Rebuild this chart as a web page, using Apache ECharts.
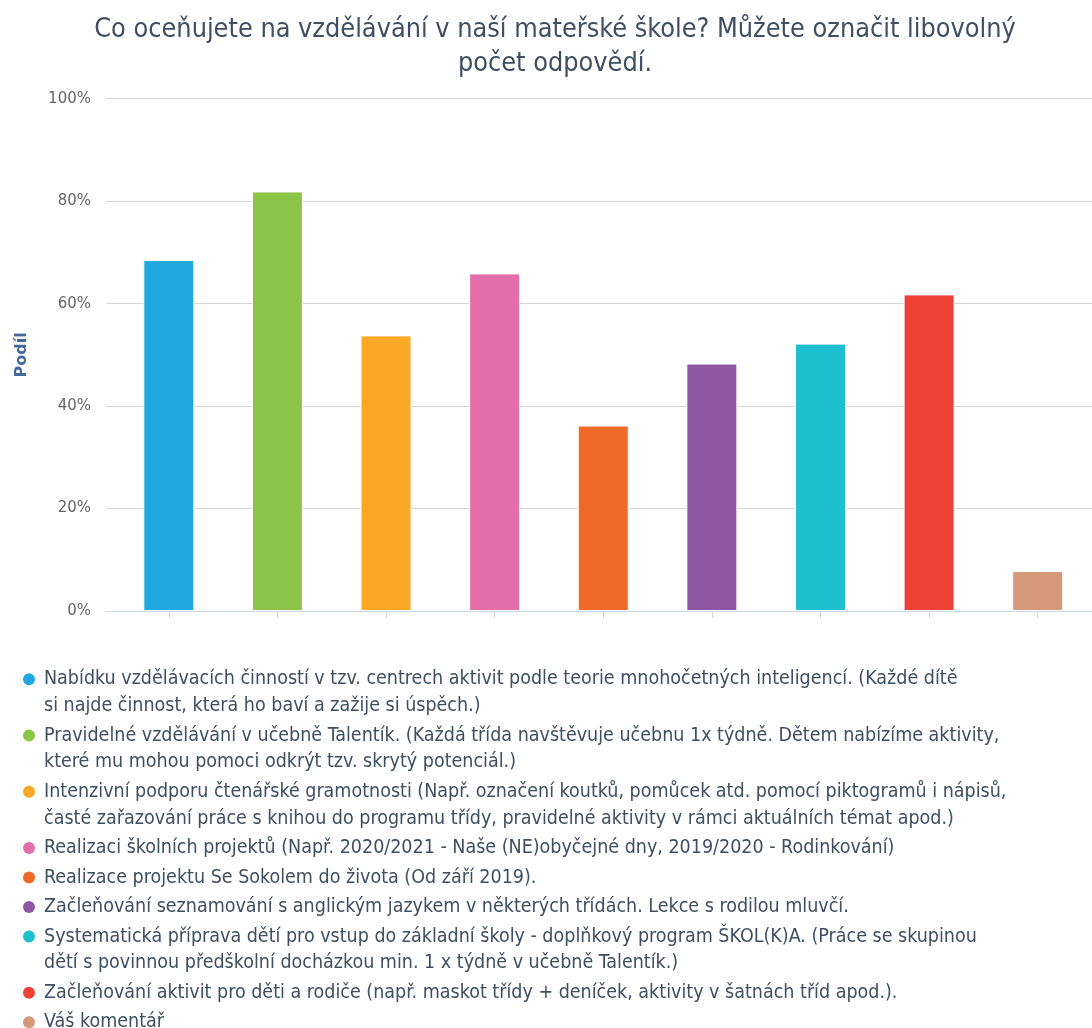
<!DOCTYPE html>
<html>
<head>
<meta charset="utf-8">
<script src="https://cdn.jsdelivr.net/npm/echarts@6/dist/echarts.min.js"></script>
<style>
  html, body { margin: 0; padding: 0; background: #fff; }
  #chart { width: 1092px; height: 1028px; }
</style>
</head>
<body>
<div id="chart"></div>
<script>
// answers (legend text, line breaks as in the original legend)
var categories = [
  'Nabídku vzdělávacích činností v tzv. centrech aktivit podle teorie mnohočetných inteligencí. (Každé dítě\nsi najde činnost, která ho baví a zažije si úspěch.)',
  'Pravidelné vzdělávání v učebně Talentík. (Každá třída navštěvuje učebnu 1x týdně. Dětem nabízíme aktivity,\nkteré mu mohou pomoci odkrýt tzv. skrytý potenciál.)',
  'Intenzivní podporu čtenářské gramotnosti (Např. označení koutků, pomůcek atd. pomocí piktogramů i nápisů,\nčasté zařazování práce s knihou do programu třídy, pravidelné aktivity v rámci aktuálních témat apod.)',
  'Realizaci školních projektů (Např. 2020/2021 - Naše (NE)obyčejné dny, 2019/2020 - Rodinkování)',
  'Realizace projektu Se Sokolem do života (Od září 2019).',
  'Začleňování seznamování s anglickým jazykem v některých třídách. Lekce s rodilou mluvčí.',
  'Systematická příprava dětí pro vstup do základní školy - doplňkový program ŠKOL(K)A. (Práce se skupinou\ndětí s povinnou předškolní docházkou min. 1 x týdně v učebně Talentík.)',
  'Začleňování aktivit pro děti a rodiče (např. maskot třídy + deníček, aktivity v šatnách tříd apod.).',
  'Váš komentář'
];
// podíl v %
var values = [68.5, 81.9, 53.8, 65.9, 36.2, 48.3, 52.2, 61.8, 7.8];
var colors = ['#1fa8e0', '#8bc547', '#fba826', '#e46ea9', '#f06a27', '#8f57a2', '#1ebfcf', '#ef4237', '#d5997a'];
var yTicks = [0, 20, 40, 60, 80, 100];

var font = 'DejaVu Sans';
var condFont = '"DejaVu Sans Condensed", "DejaVu Sans"';
var textColor = '#3e4f62';

var chart = echarts.init(document.getElementById('chart'));

// rich styles for the legend dots
var rich = { gap: { width: 9 }, ind: { width: 21 } };
colors.forEach(function (c, i) {
  rich['d' + i] = { width: 12, height: 12, borderRadius: 6, backgroundColor: c, verticalAlign: 'middle' };
});

var series = categories.map(function (name, i) {
  return {
    name: name,
    type: 'bar',
    xAxisIndex: 1,
    yAxisIndex: 1,
    barWidth: 51,
    barGap: '-100%',
    data: values.map(function (v, j) { return j === i ? v : '-'; }),
    itemStyle: { color: colors[i], borderColor: '#fff', borderWidth: 1 }
  };
});

var option = {
  animation: false,
  textStyle: { fontFamily: font },
  title: {
    text: 'Co oceňujete na vzdělávání v naší mateřské škole? Můžete označit libovolný\npočet odpovědí.',
    left: 555,
    textAlign: 'center',
    top: 13,
    padding: 0,
    textStyle: { fontFamily: condFont, fontSize: 26.8, fontWeight: 'normal', color: textColor, lineHeight: 34 }
  },
  grid: [
    { left: 106, right: 0, top: 98.7, bottom: 417 },
    { left: 114.5, right: -3, top: 98.7, bottom: 417 }
  ],
  xAxis: [
    {
      gridIndex: 0, type: 'value', min: 0, max: 1,
      axisLine: { show: true, lineStyle: { color: '#ccd6eb', width: 1 } },
      axisTick: { show: false }, axisLabel: { show: false }, splitLine: { show: false }
    },
    {
      gridIndex: 1, type: 'category', data: categories,
      axisLine: { show: false },
      axisTick: { show: true, interval: 0, alignWithLabel: true, length: 7, lineStyle: { color: '#ccd6eb' } },
      axisLabel: { show: false, interval: 0 }
    }
  ],
  yAxis: [
    {
      gridIndex: 0, type: 'value', min: yTicks[0], max: yTicks[yTicks.length - 1], interval: 20,
      name: 'Podíl',
      nameLocation: 'middle',
      nameGap: 76,
      nameTextStyle: { fontFamily: font, fontSize: 16, fontWeight: 'bold', color: '#43699c' },
      axisLine: { show: false }, axisTick: { show: false },
      axisLabel: { formatter: '{value}%', fontSize: 15, color: '#666', margin: 15, fontFamily: font },
      splitLine: { lineStyle: { color: '#d6d6d6', width: 1 } }
    },
    { gridIndex: 1, type: 'value', min: 0, max: 100, interval: 20, show: false }
  ],
  legend: {
    orient: 'vertical',
    left: 17,
    top: 666,
    height: 500,
    padding: 0,
    itemGap: 2.8,
    itemWidth: 1,
    itemHeight: 12,
    icon: 'none',
    data: categories,
    formatter: function (name) {
      var i = categories.indexOf(name);
      return name.split('\n').map(function (line, k) {
        return (k === 0 ? '{d' + i + '|}{gap|}' : '{ind|}') + line;
      }).join('\n');
    },
    textStyle: { fontFamily: condFont, fontSize: 19.5, lineHeight: 26.7, color: textColor, rich: rich }
  },
  series: series
};

chart.setOption(option);
</script>
</body>
</html>
